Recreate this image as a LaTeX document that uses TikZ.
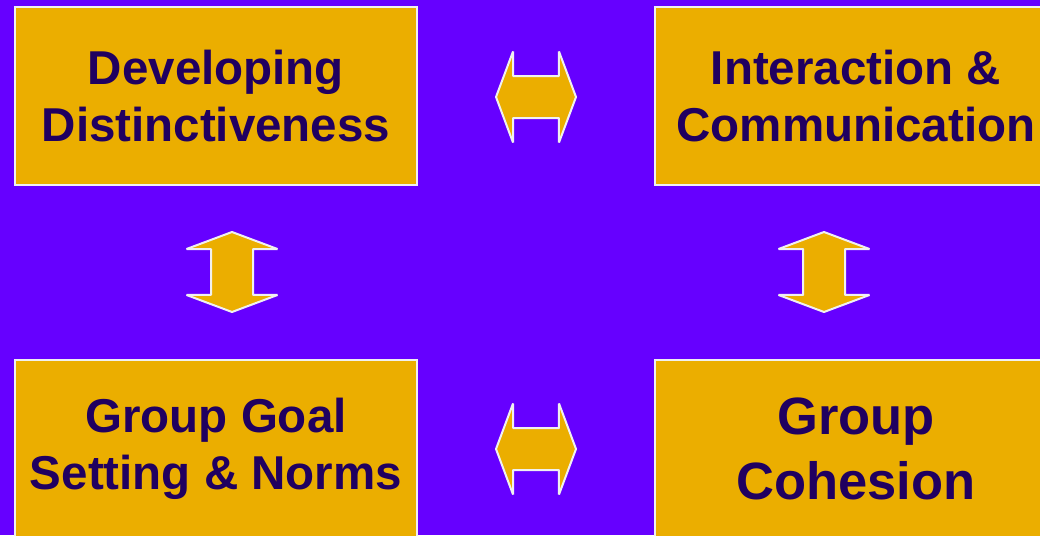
\documentclass[tikz,border=0pt]{standalone}
\usepackage{fontspec}
\setmainfont{Liberation Sans}
\usetikzlibrary{shapes.arrows}
\definecolor{bgpurple}{HTML}{6600FF}
\definecolor{boxgold}{HTML}{EBAE00}
\definecolor{inkpurple}{HTML}{200060}
\definecolor{rimwhite}{HTML}{F0F0F0}

\begin{document}
\begin{tikzpicture}
  [x=1pt,y=-1pt,
   stage/.style={rectangle,draw=rimwhite,line width=1.5pt,fill=boxgold,
     minimum width=402pt,minimum height=178pt,inner sep=0pt,align=center,
     text=inkpurple,font=\fontsize{47.5}{57}\selectfont\bfseries},
   link/.style={double arrow,draw=rimwhite,line width=2pt,line join=bevel,fill=boxgold,
     double arrow head extend=24.5pt,double arrow tip angle=139,
     minimum width=89pt,minimum height=80pt,inner xsep=0pt,inner ysep=20pt}]
  \useasboundingbox[fill=bgpurple] (0,0) rectangle (1040,535);

  \node[stage] (dev) at (216,96)  {Developing\\Distinctiveness};
  \node[stage] (com) at (856,96)  {Interaction \&\\Communication};
  \node[stage] (goal) at (216,449) {Group Goal\\Setting \& Norms};
  \node[stage,font=\fontsize{52.5}{65}\selectfont\bfseries] (coh) at (856,449) {Group\\Cohesion};

  % two-way links
  \node[link] (devcom) at (536,97) {};
  \node[link] (goalcoh) at (536,449) {};
  \node[link,rotate=90] (devgoal) at (232,272) {};
  \node[link,rotate=90] (comcoh) at (824,272) {};

\end{tikzpicture}
\end{document}
